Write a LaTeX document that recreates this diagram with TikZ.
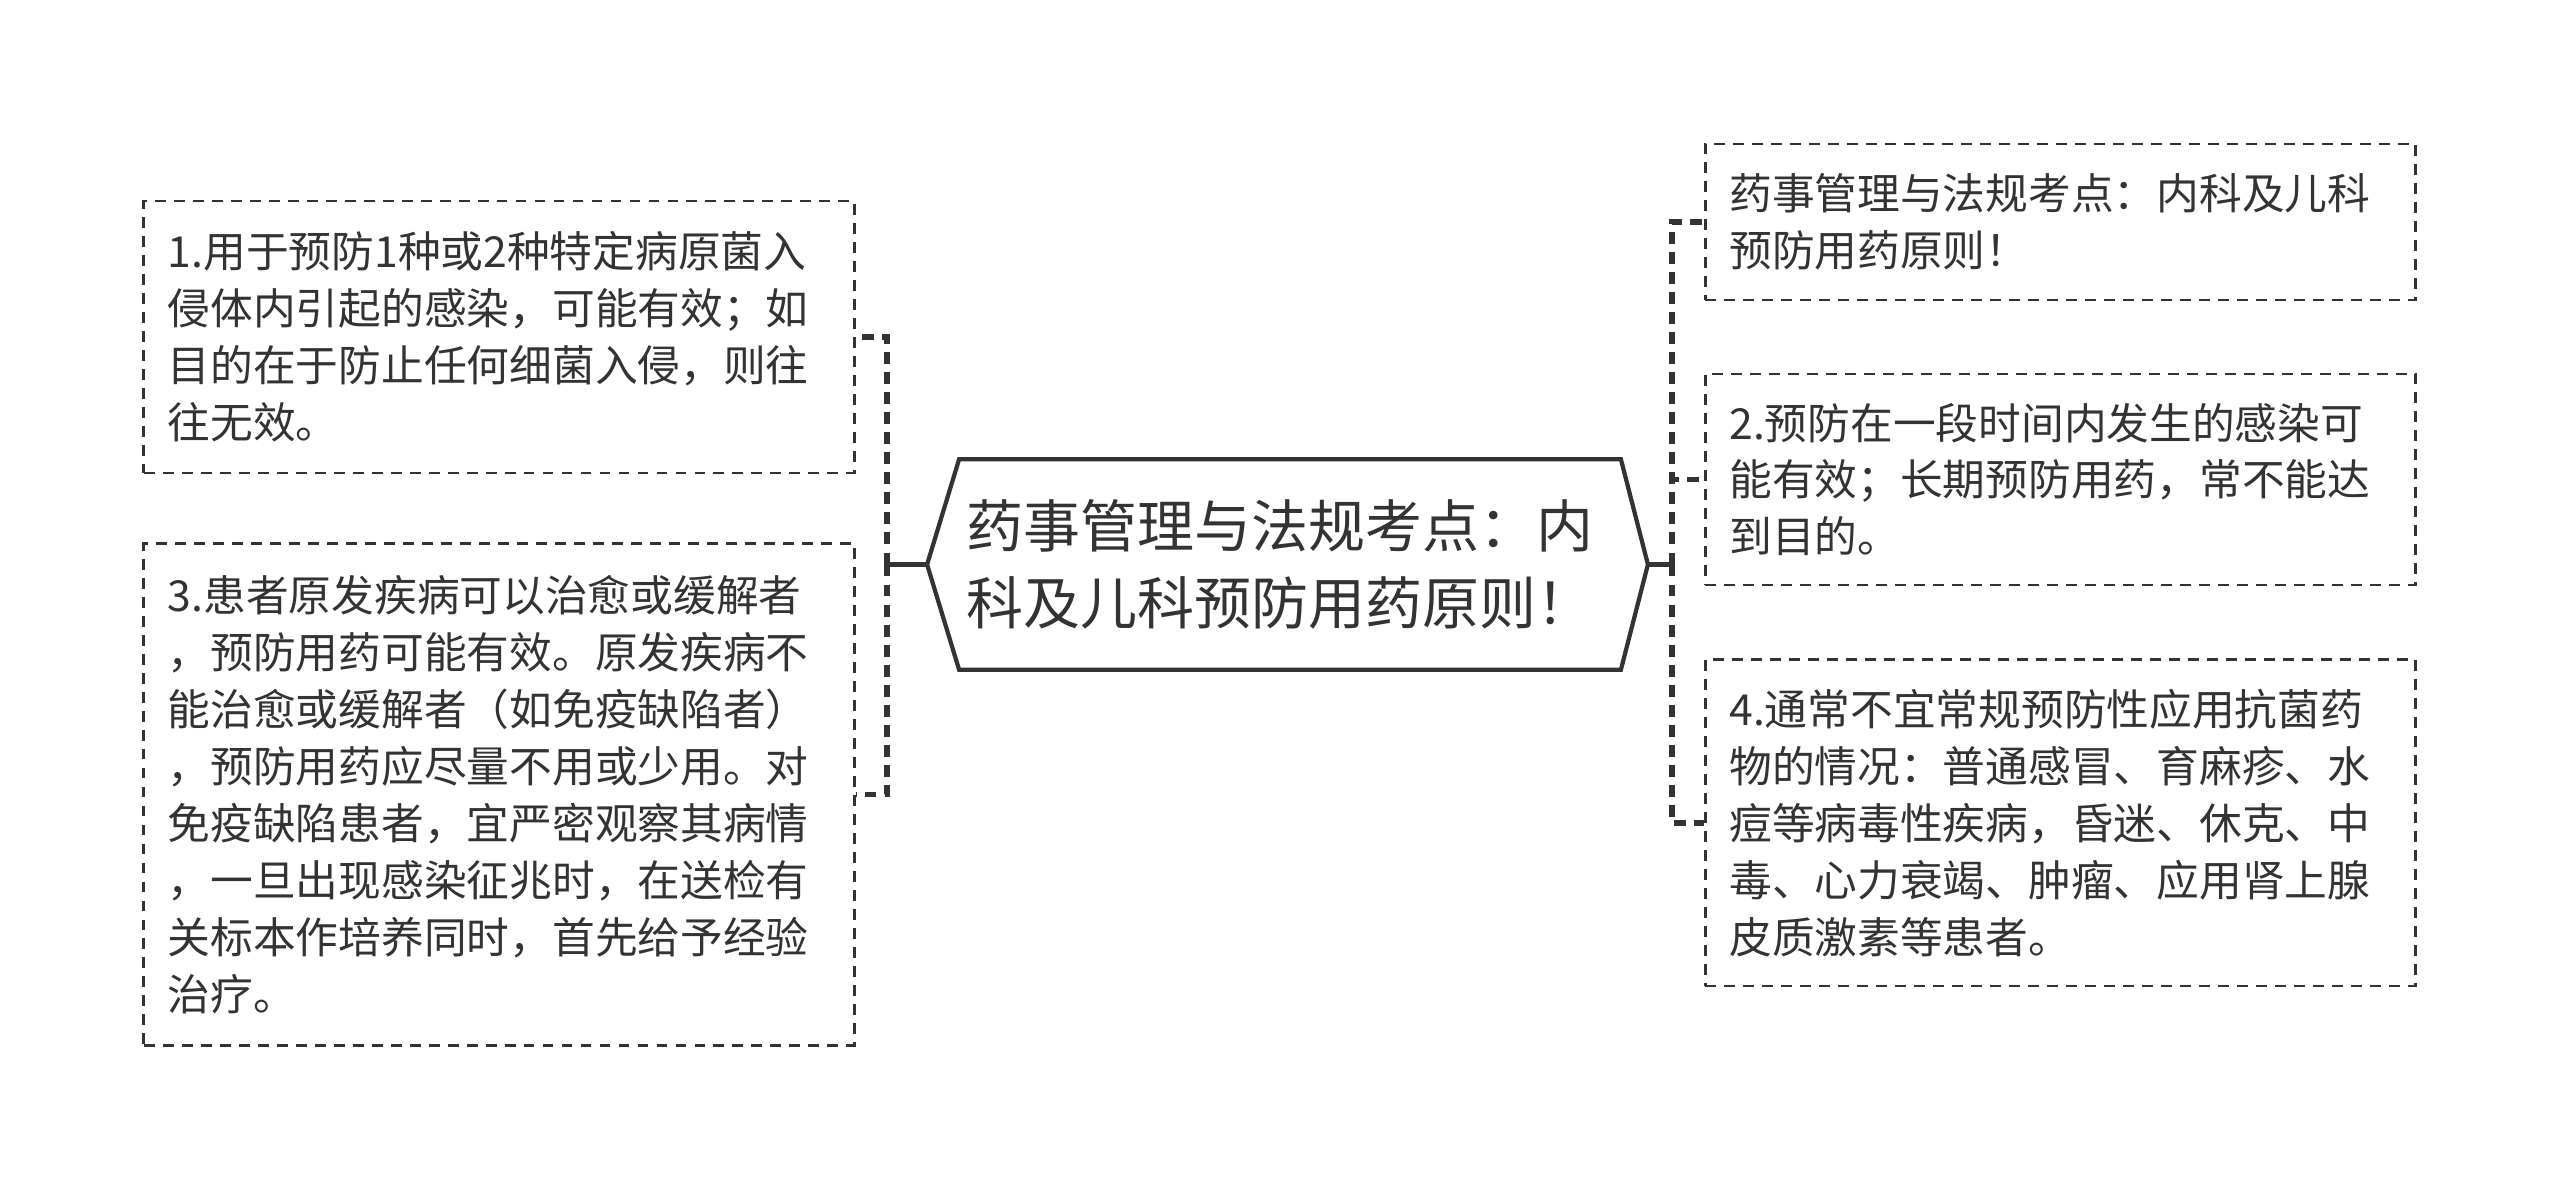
\documentclass[tikz,border=0pt]{standalone}
\usepackage{fontspec}
\newfontfamily\cjk{Noto Sans CJK SC}
\definecolor{ink}{HTML}{333333}
\tikzset{
  leaf/.style={draw=ink, line width=0.8pt, dash pattern=on 3.1pt off 2.3pt, text=ink,
    font=\cjk\fontsize{12.15pt}{16.2pt}\selectfont, text width=6.62cm, align=left,
    inner xsep=0.24cm, inner ysep=0pt},
  trunk/.style={draw=ink, line width=1.6pt},
  branch/.style={trunk, dash pattern=on 3.4pt off 2.3pt},
}

\begin{document}
\begin{tikzpicture}[x=0.01cm, y=-0.01cm]
      \useasboundingbox (0,0) rectangle (2560,1189);
      \node[text=ink, font=\cjk\fontsize{16.2pt}{21.8pt}\selectfont, text width=6.46cm, align=left,
        inner xsep=0.07cm, inner ysep=0pt, minimum height=2.09cm] (root) at (1290,564.5)
        {药事管理与法规考点：内\\科及儿科预防用药原则！};
      \draw[ink, line width=1.2pt] (root.north west) -- (root.north east) -- ([xshift=0.27cm]root.east)
        -- (root.south east) -- (root.south west) -- ([xshift=-0.32cm]root.west) -- cycle;
      \coordinate (rootL) at ([xshift=-0.32cm]root.west);
      \coordinate (rootR) at ([xshift=0.27cm]root.east);
      \coordinate (lj) at (887,564.5);
      \coordinate (rj) at (1672,564.5);

      \node[leaf, minimum height=2.72cm] (l1) at (499,337)
        {1.用于预防1种或2种特定病原菌入\\侵体内引起的感染，可能有效；如\\目的在于防止任何细菌入侵，则往\\往无效。};
      \node[leaf, minimum height=5.01cm] (l2) at (499,794.5)
        {3.患者原发疾病可以治愈或缓解者\\，预防用药可能有效。原发疾病不\\能治愈或缓解者（如免疫缺陷者）\\，预防用药应尽量不用或少用。对\\免疫缺陷患者，宜严密观察其病情\\，一旦出现感染征兆时，在送检有\\关标本作培养同时，首先给予经验\\治疗。};
      \node[leaf, minimum height=1.56cm] (r1) at (2060.5,222)
        {药事管理与法规考点：内科及儿科\\预防用药原则！};
      \node[leaf, minimum height=2.11cm] (r2) at (2060.5,479.5)
        {2.预防在一段时间内发生的感染可\\能有效；长期预防用药，常不能达\\到目的。};
      \node[leaf, minimum height=3.26cm] (r3) at (2060.5,823)
        {4.通常不宜常规预防性应用抗菌药\\物的情况：普通感冒、育麻疹、水\\痘等病毒性疾病，昏迷、休克、中\\毒、心力衰竭、肿瘤、应用肾上腺\\皮质激素等患者。};

      \draw[trunk] (rootL) -- (lj);
      \draw[trunk] (rootR) -- (rj);
      \draw[branch] (lj) |- (l1.east);
      \draw[branch] (lj) |- (l2.east);
      \draw[branch] (rj) |- (r1.west);
      \draw[branch] (rj) |- (r2.west);
      \draw[branch] (rj) |- (r3.west);
    \end{tikzpicture}
\end{document}
